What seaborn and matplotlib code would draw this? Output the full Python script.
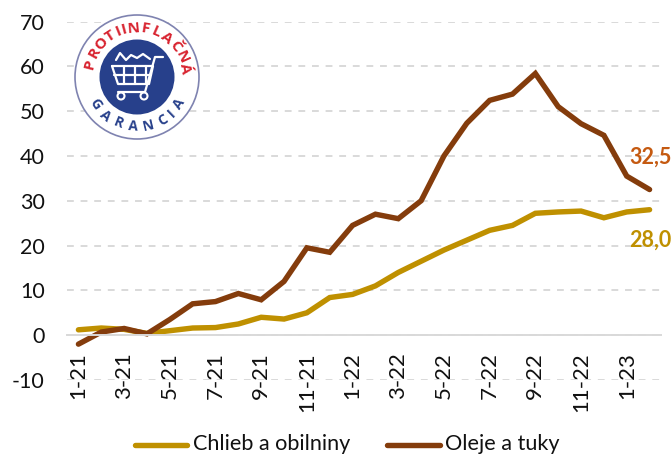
import numpy as np
import pandas as pd
import matplotlib
matplotlib.use("Agg")
import matplotlib.pyplot as plt
from matplotlib.patches import Circle
import seaborn as sns

months = ["1-21", "2-21", "3-21", "4-21", "5-21", "6-21", "7-21", "8-21", "9-21", "10-21", "11-21", "12-21",
          "1-22", "2-22", "3-22", "4-22", "5-22", "6-22", "7-22", "8-22", "9-22", "10-22", "11-22", "12-22",
          "1-23", "2-23"]
chlieb = [1.2, 1.6, 1.3, 0.4, 1.0, 1.6, 1.7, 2.5, 4.0, 3.6, 5.0, 8.4, 9.1,
          11.0, 14.0, 16.5, 19.0, 21.2, 23.4, 24.5, 27.2, 27.5, 27.7, 26.2, 27.5, 28.0]
oleje = [-2.0, 0.7, 1.5, 0.3, 3.5, 7.0, 7.5, 9.3, 7.9, 12.0, 19.5, 18.5, 24.5,
         27.0, 26.0, 30.0, 40.0, 47.3, 52.4, 53.8, 58.4, 51.0, 47.2, 44.6, 35.5, 32.5]
yticks = [-10, 0, 10, 20, 30, 40, 50, 60, 70]

GOLD = "#BF9000"
BROWN = "#843C0C"
W, H = 672, 454

sns.set_theme(style="white")
plt.rcParams["font.family"] = ["Lato", "DejaVu Sans"]
plt.rcParams["axes.unicode_minus"] = False

df = pd.DataFrame({
    "month": list(range(len(months))) * 2,
    "value": chlieb + oleje,
    "series": ["Chlieb a obilniny"] * len(months) + ["Oleje a tuky"] * len(months),
})

fig = plt.figure(figsize=(W / 100, H / 100), dpi=100)
ax = fig.add_axes([67 / W, 1 - 380 / H, 594 / W, 358.5 / H])

sns.lineplot(data=df, x="month", y="value", hue="series", palette=[GOLD, BROWN],
             linewidth=3.9, ax=ax, legend=False, solid_capstyle="round", solid_joinstyle="miter")

ax.set_xlim(-0.5, len(months) - 0.5)
ax.set_ylim(-10, 70)
ax.set_xlabel("")
ax.set_ylabel("")

# moving the spine resets the ticks, so it goes before the tick setup
for s in ["top", "right", "left"]:
    ax.spines[s].set_visible(False)
ax.spines["bottom"].set_position(("data", 0))
ax.spines["bottom"].set_color("#D9D9D9")
ax.spines["bottom"].set_linewidth(1.4)

ax.set_yticks(yticks)
ax.tick_params(axis="y", length=0, labelsize=15.5, pad=16, labelcolor="#111111")
ax.grid(axis="y", color="#D9D9D9", linestyle=(0, (3.5, 3.5)), linewidth=1.4)
ax.set_axisbelow(True)

ax.set_xticks(range(0, len(months), 2))
ax.set_xticklabels(months[::2], rotation=90, fontsize=16, color="#111111", va="top", ha="center")
ax.tick_params(axis="x", which="major", length=0, pad=12)
ax.set_xticks(np.arange(-0.5, len(months), 2), minor=True)
ax.tick_params(axis="x", which="minor", length=5, width=1.4, color="#D9D9D9", direction="out")

# end labels
fig.text(629 / W, 1 - 157 / H, "32,5", color="#C55A11", fontsize=15.5, fontweight="bold", va="center")
fig.text(629.5 / W, 1 - 240 / H, "28,0", color=GOLD, fontsize=15.5, fontweight="bold", va="center")

# legend
legend_ax = fig.add_axes([0, 0, 1, 1], facecolor="none")
legend_ax.set_xlim(0, W)
legend_ax.set_ylim(H, 0)
legend_ax.axis("off")
legend_ax.plot([135, 187], [444.5, 444.5], color=GOLD, lw=3.9, solid_capstyle="round")
legend_ax.text(193, 444, "Chlieb a obilniny", fontsize=15.6, color="#111111", va="center")
legend_ax.plot([387, 440], [444.5, 444.5], color=BROWN, lw=3.9, solid_capstyle="round")
legend_ax.text(445, 444, "Oleje a tuky", fontsize=15.6, color="#111111", va="center")

# protiinflacna logo
cx, cy = 137, 77
legend_ax.add_patch(Circle((cx, cy), 62, fc="white", ec="#7F83B0", lw=1.2))
legend_ax.add_patch(Circle((cx, cy), 37.5, fc="#27408B", ec="none"))


def ring_text(word, radius, start, end, color, size, top=True):
    # narrow I gets less of the arc than the other letters
    widths = np.array([0.5 if ch == "I" else 1.0 for ch in word])
    steps = (widths[:-1] + widths[1:]) / 2
    fracs = np.concatenate([[0], np.cumsum(steps)]) / steps.sum()
    for ch, f in zip(word, fracs):
        deg = start + (end - start) * f
        a = np.deg2rad(deg)
        rot = deg - 90 if top else deg + 90
        legend_ax.text(cx + radius * np.cos(a), cy - radius * np.sin(a), ch, color=color, fontsize=size,
                       fontweight="bold", rotation=rot, ha="center", va="center", family="Open Sans")


ring_text("PROTIINFLAČNÁ", 49, 165, 10, "#D8232F", 11)
ring_text("GARANCIA", 50, 213, 327, "#27408B", 10, top=False)

# cart
cart = dict(color="white", lw=1.6, solid_capstyle="round", solid_joinstyle="round")
legend_ax.plot([163, 155, 145, 118], [57, 57, 92, 92], **cart)
legend_ax.plot([112, 153, 149, 118, 112], [66, 66, 84, 84, 66], **cart)
legend_ax.plot([114, 151], [75, 75], **cart)
for x in [124, 135, 146]:
    legend_ax.plot([x, x], [66, 84], **cart)
for x in [121, 144]:
    legend_ax.add_patch(Circle((x, 96), 3.5, fc="#27408B", ec="white", lw=1.5))
legend_ax.plot([116, 120, 126, 131, 137, 143, 150], [60, 53, 60, 55, 58, 54, 59], **cart)

fig.savefig("out.png", dpi=100)
